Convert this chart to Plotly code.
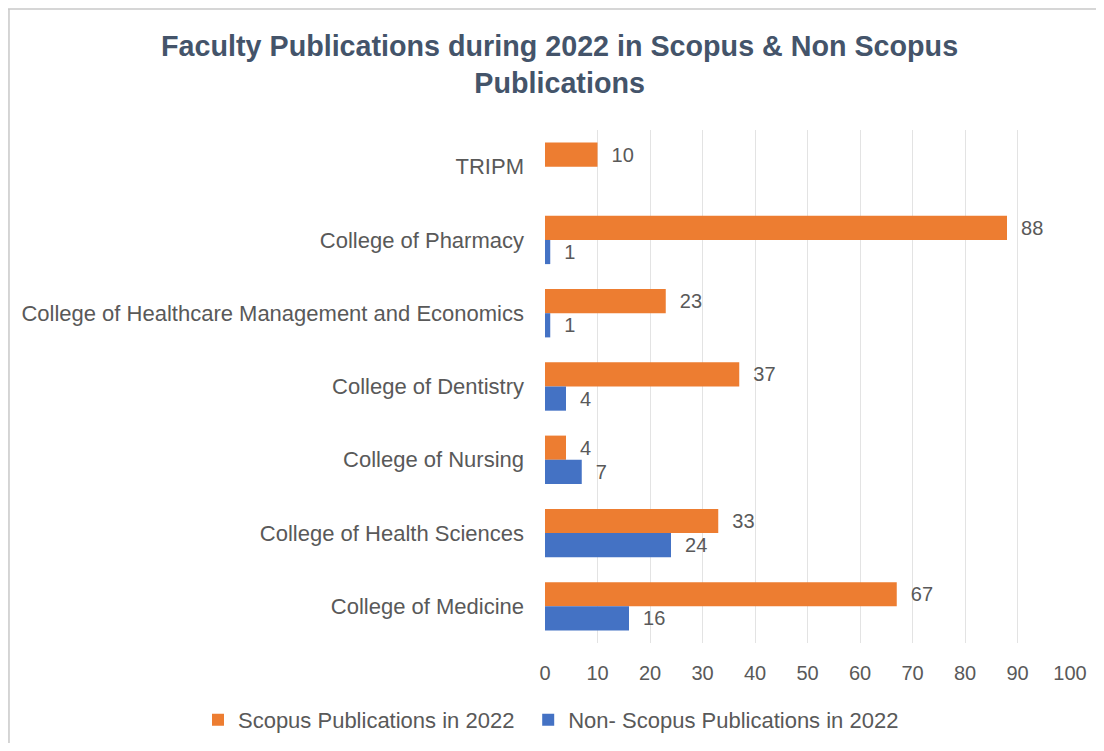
import plotly.graph_objects as go

# Data (top to bottom)
colleges = [
    "TRIPM",
    "College of Pharmacy",
    "College of Healthcare Management and Economics",
    "College of Dentistry",
    "College of Nursing",
    "College of Health Sciences",
    "College of Medicine",
]
scopus_2022 = [10, 88, 23, 37, 4, 33, 67]
non_scopus_2022 = [None, 1, 1, 4, 7, 24, 16]
x_ticks = list(range(0, 101, 10))

ORANGE = "#ED7D31"
BLUE = "#4472C4"
TEXT = "#595959"

fig = go.Figure()

fig.add_trace(go.Bar(
    y=colleges, x=scopus_2022, orientation="h",
    name="Scopus Publications in 2022",
    marker=dict(color=ORANGE, line=dict(width=0)),
    texttemplate="  %{x}", textposition="outside",
    textfont=dict(color=TEXT, size=20),
    cliponaxis=False, legend="legend",
))
fig.add_trace(go.Bar(
    y=colleges, x=non_scopus_2022, orientation="h",
    name="Non- Scopus Publications in 2022",
    marker=dict(color=BLUE, line=dict(width=0)),
    texttemplate="  %{x}", textposition="outside",
    textfont=dict(color=TEXT, size=20),
    cliponaxis=False, legend="legend2",
))

# x < 0 and y < 0 in paper units lets a horizontal legend use the full width
legend_style = dict(
    orientation="h", xanchor="left", xref="paper",
    y=-0.15, yanchor="middle", yref="paper",
    font=dict(size=22, color=TEXT), itemwidth=30,
)

# the page adds an 8px body margin, so the figure is sized to fit inside it
fig.update_layout(
    width=1088, height=735,
    margin=dict(l=537, r=26, t=122, b=100, autoexpand=False),
    paper_bgcolor="white", plot_bgcolor="white",
    font=dict(family="Liberation Sans, Arial, sans-serif", color=TEXT, size=20),
    title=dict(
        text="<b>Faculty Publications during 2022 in Scopus & Non Scopus<br>Publications</b>",
        x=0.507, xanchor="center", y=0.935, yanchor="top",
        font=dict(size=28.7, color="#44546A"),
    ),
    barmode="group", bargap=0.34, bargroupgap=0,
    showlegend=True,
    legend=dict(x=-0.661, **legend_style),
    legend2=dict(x=-0.032, **legend_style),
    xaxis=dict(
        range=[0, 100], tickvals=x_ticks, showgrid=True, gridcolor="#E3E3E3",
        gridwidth=1, zeroline=False, showline=False, ticks="",
        tickfont=dict(size=20, color=TEXT), ticklabelstandoff=16,
    ),
    yaxis=dict(
        categoryorder="array", categoryarray=colleges, autorange="reversed",
        showgrid=False, zeroline=False, showline=False, ticks="",
        tickfont=dict(size=22, color=TEXT), ticklabelstandoff=20,
    ),
    shapes=[
        dict(type="line", xref="paper", yref="paper", x0=-1.023, x1=1.05,
             y0=1.236, y1=1.236, line=dict(color="#C8C8C8", width=1.5)),
        dict(type="line", xref="paper", yref="paper", x0=-1.021, x1=-1.021,
             y0=-0.3, y1=1.236, line=dict(color="#C8C8C8", width=1.5)),
    ],
)

fig.write_html("out.html")
